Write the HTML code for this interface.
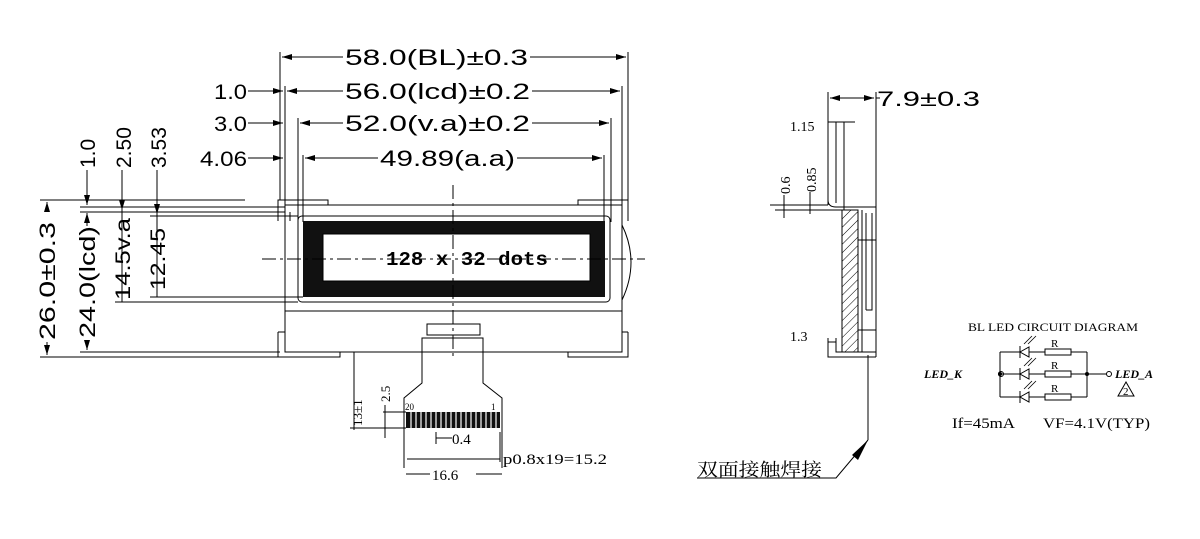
<!DOCTYPE html>
<html><head><style>
html,body{margin:0;padding:0;background:#fff;}
svg{display:block;}
text{font-family:"Liberation Sans",sans-serif;fill:#000;}
.m{font-family:"Liberation Serif","Noto Serif CJK SC",serif;}
</style></head><body>
<svg width="1200" height="539" viewBox="0 0 1200 539" xmlns="http://www.w3.org/2000/svg">
<defs>
<marker id="a" viewBox="0 0 10 6" refX="10" refY="3" markerWidth="10" markerHeight="6" orient="auto-start-reverse" markerUnits="userSpaceOnUse"><path d="M0,0L10,3L0,6z" fill="#000"/></marker>
<pattern id="h" width="6" height="6" patternUnits="userSpaceOnUse" patternTransform="rotate(45)"><line x1="0" y1="0" x2="0" y2="6" stroke="#000" stroke-width="1"/></pattern>
</defs>
<g stroke="#000" stroke-width="1" fill="none">
<line x1="280" y1="52" x2="280" y2="200"/><line x1="628" y1="52" x2="628" y2="200"/>
<line x1="285" y1="86" x2="285" y2="212"/><line x1="622" y1="86" x2="622" y2="212"/>
<line x1="298" y1="118" x2="298" y2="222"/><line x1="611" y1="118" x2="611" y2="222"/>
<line x1="303" y1="155" x2="303" y2="222"/><line x1="604" y1="155" x2="604" y2="222"/>
<line x1="282" y1="57" x2="343" y2="57" marker-start="url(#a)"/><line x1="530" y1="57" x2="626" y2="57" marker-end="url(#a)"/>
<line x1="287" y1="91" x2="343" y2="91" marker-start="url(#a)"/><line x1="532" y1="91" x2="620" y2="91" marker-end="url(#a)"/>
<line x1="300" y1="123" x2="343" y2="123" marker-start="url(#a)"/><line x1="532" y1="123" x2="609" y2="123" marker-end="url(#a)"/>
<line x1="305" y1="158" x2="378" y2="158" marker-start="url(#a)"/><line x1="517" y1="158" x2="602" y2="158" marker-end="url(#a)"/>
<line x1="248" y1="91" x2="283" y2="91" marker-end="url(#a)"/>
<line x1="248" y1="123" x2="283" y2="123" marker-end="url(#a)"/>
<line x1="248" y1="158" x2="283" y2="158" marker-end="url(#a)"/>
<line x1="40" y1="200" x2="245" y2="200"/>
<line x1="80" y1="207" x2="285" y2="207"/>
<line x1="80" y1="212" x2="285" y2="212"/>
<line x1="150" y1="216" x2="298" y2="216"/>
<line x1="150" y1="297" x2="303" y2="297"/>
<line x1="115" y1="302" x2="298" y2="302"/>
<line x1="80" y1="352" x2="280" y2="352"/>
<line x1="40" y1="357" x2="280" y2="357"/>
<line x1="47" y1="202" x2="47" y2="212" marker-start="url(#a)"/><line x1="47" y1="342" x2="47" y2="355" marker-end="url(#a)"/>
<line x1="87" y1="170" x2="87" y2="205" marker-end="url(#a)"/>
<line x1="87" y1="213" x2="87" y2="226" marker-start="url(#a)"/><line x1="87" y1="340" x2="87" y2="350" marker-end="url(#a)"/>
<line x1="122" y1="170" x2="122" y2="210" marker-end="url(#a)"/><line x1="122" y1="210" x2="122" y2="302"/>
<line x1="157" y1="170" x2="157" y2="214" marker-end="url(#a)"/><line x1="157" y1="214" x2="157" y2="297"/>
<rect x="285" y="205" width="337" height="147"/>
<path d="M278 221V200H328V205M290 221V212"/>
<path d="M628 221V200H578V205"/>
<path d="M278 332V357H340V352M628 332V357H568V352"/>
<path d="M278 332H285M622 332H628"/>
<line x1="285" y1="311" x2="622" y2="311"/>
<rect x="298" y="216" width="312" height="86" rx="4"/>
<path d="M622 225Q640 262 622 300"/>
<rect x="303" y="221" width="302" height="76" fill="#111" stroke="none"/>
<rect x="323" y="234" width="267" height="47" fill="#fff" stroke="#000"/>
<rect x="427" y="324" width="53" height="11"/>
<line x1="453" y1="185" x2="453" y2="360" stroke-dasharray="14,4,3,4"/>
<line x1="262" y1="259" x2="645" y2="259" stroke-dasharray="14,4,3,4"/>
<path d="M422 352V338H483V352"/>
<path d="M422 352V383L404 398V468M483 352V383L502 398V468"/>
<rect x="406" y="412" width="94" height="16" fill="#111" stroke="none"/>
<g stroke="#fff" stroke-width="1.2">
<line x1="411" y1="412" x2="411" y2="428"/><line x1="416" y1="412" x2="416" y2="428"/><line x1="421" y1="412" x2="421" y2="428"/><line x1="426" y1="412" x2="426" y2="428"/><line x1="431" y1="412" x2="431" y2="428"/><line x1="436" y1="412" x2="436" y2="428"/><line x1="441" y1="412" x2="441" y2="428"/><line x1="446" y1="412" x2="446" y2="428"/><line x1="451" y1="412" x2="451" y2="428"/><line x1="456" y1="412" x2="456" y2="428"/><line x1="461" y1="412" x2="461" y2="428"/><line x1="466" y1="412" x2="466" y2="428"/><line x1="471" y1="412" x2="471" y2="428"/><line x1="476" y1="412" x2="476" y2="428"/><line x1="481" y1="412" x2="481" y2="428"/><line x1="486" y1="412" x2="486" y2="428"/><line x1="491" y1="412" x2="491" y2="428"/><line x1="496" y1="412" x2="496" y2="428"/>
</g>
<line x1="354" y1="352" x2="354" y2="430"/>
<line x1="350" y1="428" x2="406" y2="428"/>
<line x1="383" y1="412" x2="406" y2="412"/>
<line x1="385" y1="405" x2="385" y2="438"/>
<line x1="436" y1="438" x2="452" y2="438"/><line x1="436" y1="432" x2="436" y2="444"/>
<line x1="407" y1="459" x2="500" y2="459"/><line x1="500" y1="432" x2="500" y2="462"/>
<line x1="406" y1="474" x2="430" y2="474"/><line x1="476" y1="474" x2="502" y2="474"/>
<line x1="828" y1="92" x2="828" y2="205"/>
<line x1="876" y1="92" x2="876" y2="357"/>
<line x1="830" y1="98" x2="874" y2="98" marker-start="url(#a)" marker-end="url(#a)"/>
<line x1="876" y1="98" x2="880" y2="98"/>
<path d="M836 203V122M844 203V122"/>
<line x1="828" y1="122" x2="855" y2="122"/>
<path d="M828 200Q828 207 836 207H876M770 205H828M775 210H844M844 200V210"/>
<rect x="842" y="210" width="16" height="142" fill="url(#h)"/>
<path d="M858 210V352M862 210V352M872 213V310H866M866 213V310M858 240H876M858 330H876"/>
<path d="M828 338V357H876M836 338V352H876M828 342H836"/>
<line x1="784" y1="195" x2="784" y2="218"/><line x1="810" y1="192" x2="810" y2="214"/>
<path d="M868 355V440"/>
<path d="M868 440L836 478H697"/>
</g>
<path d="M868 440L852 455L858 460z" fill="#000"/>
<g stroke="#000" stroke-width="1" fill="none">
<circle cx="1001" cy="374" r="2.5"/>
<circle cx="1109" cy="374" r="2.5"/>
<line x1="1003" y1="374" x2="1014" y2="374"/>
<line x1="1087" y1="374" x2="1107" y2="374"/>
<line x1="1000" y1="352" x2="1000" y2="397"/>
<line x1="1000" y1="352" x2="1087" y2="352"/><line x1="1000" y1="374" x2="1087" y2="374"/><line x1="1000" y1="397" x2="1087" y2="397"/>
<line x1="1087" y1="352" x2="1087" y2="397"/>
<rect x="1045" y="349" width="26" height="6" fill="#fff"/>
<rect x="1045" y="371" width="26" height="6" fill="#fff"/>
<rect x="1045" y="394" width="26" height="6" fill="#fff"/>
<path d="M1118 396L1126 382L1134 396Z"/>
</g>
<g fill="#000" stroke="#000">
<path d="M1020 352l9-5v10z M1020 374l9-5v10z M1020 397l9-5v10z" fill="#fff"/>
<path d="M1020 346v12M1020 368v12M1020 391v12" />
<path d="M1024 344l8-8M1028 344l8-8M1024 366l8-8M1028 366l8-8M1024 389l8-8M1028 389l8-8" stroke-width="0.8"/>
</g>
<circle cx="1000" cy="374" r="2" fill="#000"/>
<circle cx="1087" cy="374" r="2" fill="#000"/>
<text x="345" y="65" font-size="22" textLength="183" lengthAdjust="spacingAndGlyphs">58.0(BL)±0.3</text>
<text x="345" y="99" font-size="22" textLength="185" lengthAdjust="spacingAndGlyphs">56.0(lcd)±0.2</text>
<text x="345" y="131" font-size="22" textLength="185" lengthAdjust="spacingAndGlyphs">52.0(v.a)±0.2</text>
<text x="380" y="166" font-size="22" textLength="135" lengthAdjust="spacingAndGlyphs">49.89(a.a)</text>
<text x="214" y="99" font-size="21" textLength="33" lengthAdjust="spacingAndGlyphs">1.0</text>
<text x="214" y="131" font-size="21" textLength="33" lengthAdjust="spacingAndGlyphs">3.0</text>
<text x="200" y="166" font-size="21" textLength="47" lengthAdjust="spacingAndGlyphs">4.06</text>
<text transform="translate(95,168) rotate(-90)" font-size="21">1.0</text>
<text transform="translate(131,168) rotate(-90)" font-size="21">2.50</text>
<text transform="translate(166,168) rotate(-90)" font-size="21">3.53</text>
<text transform="translate(55,340) rotate(-90)" font-size="22" textLength="118" lengthAdjust="spacingAndGlyphs">26.0±0.3</text>
<text transform="translate(95,338) rotate(-90)" font-size="22" textLength="112" lengthAdjust="spacingAndGlyphs">24.0(lcd)</text>
<text transform="translate(130,300) rotate(-90)" font-size="21" textLength="82" lengthAdjust="spacingAndGlyphs">14.5v.a</text>
<text transform="translate(165,290) rotate(-90)" font-size="21" textLength="62" lengthAdjust="spacingAndGlyphs">12.45</text>
<text x="386" y="265" font-size="19" font-weight="bold" textLength="162" lengthAdjust="spacingAndGlyphs" style="font-family:'Liberation Mono',monospace">128 x 32 dots</text>
<text x="877" y="106" font-size="21" textLength="103" lengthAdjust="spacingAndGlyphs">7.9±0.3</text>
<text class="m" x="790" y="131" font-size="14">1.15</text>
<text class="m" transform="translate(790,194) rotate(-90)" font-size="14">0.6</text>
<text class="m" transform="translate(816,192) rotate(-90)" font-size="14">0.85</text>
<text class="m" x="790" y="341" font-size="14">1.3</text>
<text class="m" transform="translate(362,426) rotate(-90)" font-size="13">13±1</text>
<text class="m" transform="translate(390,402) rotate(-90)" font-size="13">2.5</text>
<text class="m" x="405" y="410" font-size="9">20</text>
<text class="m" x="491" y="410" font-size="9">1</text>
<text class="m" x="452" y="444" font-size="15">0.4</text>
<text class="m" x="503" y="464" font-size="15" textLength="104" lengthAdjust="spacingAndGlyphs">p0.8x19=15.2</text>
<text class="m" x="432" y="480" font-size="15">16.6</text>
<text class="m" x="697" y="476" font-size="18" textLength="125" lengthAdjust="spacingAndGlyphs">双面接触焊接</text>
<text class="m" x="968" y="331" font-size="12" textLength="170" lengthAdjust="spacingAndGlyphs">BL LED CIRCUIT DIAGRAM</text>
<text class="m" x="1051" y="347" font-size="11">R</text>
<text class="m" x="1051" y="369" font-size="11">R</text>
<text class="m" x="1051" y="392" font-size="11">R</text>
<text class="m" x="1123" y="395" font-size="11">2</text>
<text class="m" x="924" y="378" font-size="12" font-weight="bold" font-style="italic">LED_K</text>
<text class="m" x="1115" y="378" font-size="12" font-weight="bold" font-style="italic">LED_A</text>
<text class="m" x="952" y="428" font-size="15" textLength="63" lengthAdjust="spacingAndGlyphs">If=45mA</text>
<text class="m" x="1043" y="428" font-size="15" textLength="107" lengthAdjust="spacingAndGlyphs">VF=4.1V(TYP)</text>
</svg>
</body></html>
